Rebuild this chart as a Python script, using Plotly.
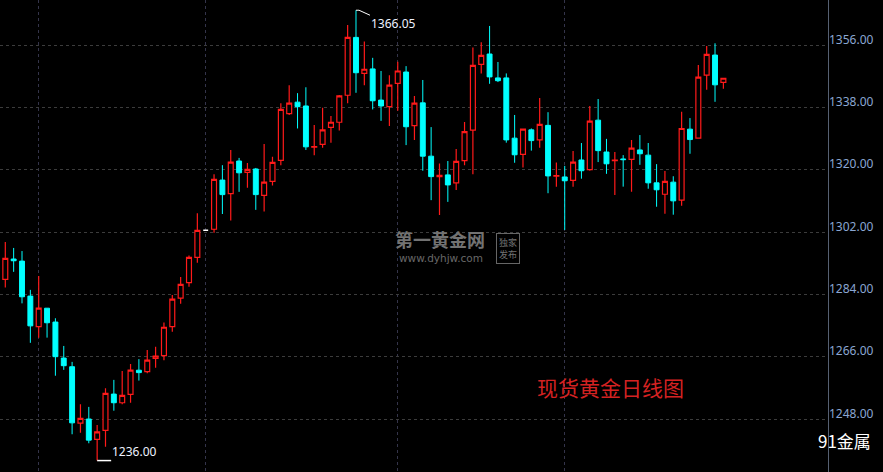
import plotly.graph_objects as go

# ---- data ----
opens = [1291.0, 1288.3, 1294.2, 1293.6, 1283.5, 1274.7, 1280.0, 1276.0, 1265.6, 1263.1,
         1246.8, 1248.0, 1242.1, 1244.7, 1255.2, 1252.7, 1255.1, 1262.1, 1261.7, 1265.5,
         1266.3, 1274.7, 1282.9, 1287.4, 1294.7, 1302.5, 1302.8, 1317.0, 1313.1, 1322.5,
         1319.2, 1320.2, 1312.6, 1316.6, 1322.7, 1336.2, 1339.5, 1338.4, 1326.5, 1327.3,
         1332.2, 1333.7, 1341.5, 1358.2, 1347.8, 1349.1, 1340.1, 1338.2, 1344.9, 1348.2,
         1332.7, 1339.3, 1323.9, 1318.0, 1318.5, 1316.2, 1322.6, 1331.4, 1350.4, 1353.4,
         1346.5, 1346.5, 1329.1, 1324.4, 1331.5, 1328.6, 1332.8, 1318.1, 1317.9, 1316.9,
         1322.8, 1320.0, 1334.3, 1325.1, 1322.6, 1323.1, 1323.0, 1325.7, 1324.2, 1316.2,
         1312.9, 1316.4, 1311.2, 1331.7, 1329.1, 1347.3, 1353.1, 1345.2]
highs = [1293.5, 1299.1, 1297.4, 1296.5, 1285.3, 1289.3, 1280.0, 1277.1, 1269.1, 1264.5,
         1252.3, 1251.5, 1246.3, 1256.9, 1259.3, 1261.9, 1263.9, 1265.3, 1267.9, 1268.9,
         1275.9, 1283.8, 1289.0, 1295.2, 1307.4, 1302.5, 1318.7, 1321.3, 1325.7, 1323.4,
         1321.9, 1320.5, 1327.4, 1323.7, 1339.2, 1344.4, 1342.1, 1343.8, 1332.9, 1337.9,
         1335.5, 1341.6, 1361.8, 1366.05, 1357.0, 1352.3, 1348.5, 1347.3, 1351.2, 1349.9,
         1341.3, 1345.9, 1332.3, 1321.8, 1322.5, 1326.0, 1333.8, 1355.3, 1356.8, 1361.5,
         1351.1, 1347.8, 1335.8, 1331.9, 1331.9, 1340.7, 1336.6, 1322.1, 1321.1, 1325.4,
         1327.7, 1338.4, 1340.4, 1328.9, 1325.1, 1324.2, 1328.6, 1330.0, 1327.7, 1321.6,
         1319.6, 1318.1, 1336.7, 1334.9, 1350.2, 1355.7, 1356.5, 1346.4]
lows = [1284.5, 1286.0, 1290.5, 1281.4, 1270.0, 1271.5, 1271.5, 1260.5, 1262.2, 1243.6,
        1244.0, 1241.0, 1236.0, 1240.0, 1250.4, 1252.3, 1252.7, 1259.1, 1261.2, 1262.8,
        1265.0, 1273.2, 1281.3, 1286.2, 1293.1, 1302.5, 1301.8, 1307.2, 1305.3, 1313.6,
        1314.8, 1308.4, 1307.9, 1315.4, 1321.3, 1335.8, 1331.9, 1325.7, 1324.2, 1326.3,
        1327.8, 1331.3, 1339.2, 1342.2, 1344.4, 1337.4, 1334.1, 1332.6, 1337.0, 1327.1,
        1328.6, 1319.7, 1311.2, 1306.9, 1310.7, 1314.1, 1321.3, 1318.7, 1347.8, 1344.8,
        1345.3, 1327.8, 1322.0, 1320.6, 1325.5, 1326.3, 1313.2, 1315.1, 1302.6, 1315.1,
        1317.4, 1319.7, 1322.2, 1318.8, 1312.7, 1315.1, 1313.6, 1321.4, 1314.5, 1309.3,
        1307.3, 1307.0, 1309.6, 1324.6, 1329.0, 1343.1, 1339.6, 1343.4]
closes = [1287.4, 1294.4, 1293.7, 1283.3, 1274.9, 1280.0, 1275.8, 1266.0, 1263.4, 1246.9,
          1248.2, 1241.9, 1244.3, 1255.4, 1252.7, 1254.8, 1262.1, 1261.4, 1265.0, 1266.2,
          1274.5, 1282.6, 1286.9, 1294.7, 1302.5, 1302.5, 1317.2, 1312.8, 1322.2, 1319.1,
          1320.1, 1312.8, 1316.4, 1322.1, 1337.4, 1339.2, 1338.2, 1326.6, 1326.7, 1331.5,
          1333.7, 1341.3, 1358.2, 1348.0, 1349.0, 1339.9, 1338.4, 1344.4, 1348.5, 1332.4,
          1339.2, 1323.9, 1318.0, 1318.4, 1315.6, 1322.4, 1331.0, 1350.1, 1353.0, 1346.8,
          1345.7, 1328.6, 1324.3, 1331.7, 1328.4, 1333.1, 1318.2, 1318.3, 1316.8, 1322.2,
          1319.7, 1334.0, 1325.5, 1321.7, 1322.8, 1322.9, 1326.2, 1324.6, 1316.2, 1314.2,
          1316.6, 1311.0, 1331.9, 1328.7, 1346.7, 1353.3, 1344.5, 1346.4]
x_idx = list(range(len(opens)))
month_starts = [5, 25, 48, 68]
price_ticks = [1248, 1266, 1284, 1302, 1320, 1338, 1356]
title_text = "现货黄金日线图"
brand_text = "91金属"

# split normal candles and flat (no-trade) candles
flat = [o == h == l == c for o, h, l, c in zip(opens, highs, lows, closes)]
def pick(arr, want):
    return [v for v, f in zip(arr, flat) if f == want]

RED = "#ff1a1a"
CYAN = "#00ffff"

fig = go.Figure()
fig.add_trace(go.Candlestick(
    x=pick(x_idx, False), open=pick(opens, False), high=pick(highs, False),
    low=pick(lows, False), close=pick(closes, False),
    increasing=dict(line=dict(color=RED, width=1.2), fillcolor="#000000"),
    decreasing=dict(line=dict(color=CYAN, width=1), fillcolor=CYAN),
    whiskerwidth=0, hoverinfo="skip", showlegend=False,
))
fig.add_trace(go.Candlestick(
    x=pick(x_idx, True), open=pick(opens, True), high=pick(highs, True),
    low=pick(lows, True), close=pick(closes, True),
    increasing=dict(line=dict(color="#ffffff", width=1.5), fillcolor="#ffffff"),
    decreasing=dict(line=dict(color="#ffffff", width=1.5), fillcolor="#ffffff"),
    whiskerwidth=0, hoverinfo="skip", showlegend=False,
))

annotations = []
for v in price_ticks:
    annotations.append(dict(
        xref="paper", yref="y", x=1, y=v, xanchor="left", yanchor="middle",
        yshift=6, xshift=-1, text=f"{v:.2f}", showarrow=False,
        font=dict(family="Noto Sans", size=12, color="#8aa6d2")))

hi_i = max(range(len(highs)), key=lambda i: highs[i])
lo_i = min(range(len(lows)), key=lambda i: lows[i])
hi_v, lo_v = highs[hi_i], lows[lo_i]
annotations.append(dict(
    xref="x", yref="y", x=hi_i, y=hi_v, xanchor="left", yanchor="middle",
    xshift=13, yshift=-13, text=f"{hi_v:.2f}", showarrow=False,
    font=dict(family="Noto Sans", size=12, color="#eef2ff")))
annotations.append(dict(
    xref="x", yref="y", x=lo_i, y=lo_v, xanchor="left", yanchor="middle",
    xshift=13, yshift=9, text=f"{lo_v:.2f}", showarrow=False,
    font=dict(family="Noto Sans", size=12, color="#eef2ff")))

# watermark and captions
annotations += [
    dict(xref="paper", yref="paper", x=440 / 828, y=1 - 239 / 472, xanchor="center",
         yanchor="middle", text="<b>第一黄金网</b>", showarrow=False, borderpad=0,
         font=dict(family="Noto Sans CJK SC", size=18, color="#727272")),
    dict(xref="paper", yref="paper", x=441 / 828, y=1 - 258 / 472, xanchor="center",
         yanchor="middle", text="www.dyhjw.com", showarrow=False, borderpad=0,
         font=dict(family="DejaVu Sans", size=10.5, color="#686868")),
    dict(xref="paper", yref="paper", x=508 / 828, y=1 - 248 / 472, xanchor="center",
         yanchor="middle", text="独家<br>发布", showarrow=False,
         bordercolor="#666666", borderwidth=1, borderpad=2,
         font=dict(family="Noto Sans CJK SC", size=9, color="#727272")),
    dict(xref="paper", yref="paper", x=610 / 828, y=1 - 387 / 472, xanchor="center",
         yanchor="middle", text=title_text, showarrow=False,
         font=dict(family="Noto Sans CJK SC", size=21, color="#d42222")),
    dict(xref="paper", yref="paper", x=1, xshift=-12, y=1 - 440 / 472, xanchor="left",
         yanchor="middle", text=brand_text, showarrow=False,
         font=dict(family="Noto Sans CJK SC", size=17, color="#ffffff")),
]

shapes = [
    dict(type="line", xref="x", yref="y", xsizemode="pixel", ysizemode="pixel",
         xanchor=hi_i, yanchor=hi_v, x0=0, y0=0, x1=3, y1=0,
         line=dict(color="#ffffff", width=1)),
    dict(type="line", xref="x", yref="y", xsizemode="pixel", ysizemode="pixel",
         xanchor=hi_i, yanchor=hi_v, x0=3, y0=0, x1=14, y1=-5,
         line=dict(color="#ffffff", width=1)),
    dict(type="line", xref="x", yref="y", xsizemode="pixel", ysizemode="pixel",
         xanchor=lo_i, yanchor=lo_v, x0=0, y0=0, x1=14, y1=0,
         line=dict(color="#ffffff", width=1.5)),
]

fig.update_layout(
    width=883, height=472, margin=dict(l=0, r=55, t=0, b=0),
    paper_bgcolor="#000000", plot_bgcolor="#000000",
    boxgap=0.16, showlegend=False, annotations=annotations, shapes=shapes,
    xaxis=dict(range=[0.365, 99.53], tickvals=month_starts, showticklabels=False,
               showgrid=True, gridcolor="#34344a", griddash="dot", gridwidth=1,
               zeroline=False, showline=False, ticks="", rangeslider=dict(visible=False)),
    yaxis=dict(range=[1232.7, 1369.0], side="right", tickvals=price_ticks,
               showticklabels=False, showgrid=True, gridcolor="#3c3c3c", griddash="dot",
               zeroline=False, showline=True, linecolor="#566072", linewidth=1, ticks=""),
)

fig.write_html("out.html", config={"displayModeBar": False},
               post_script="document.body.style.margin='0';document.body.style.background='#000';")
